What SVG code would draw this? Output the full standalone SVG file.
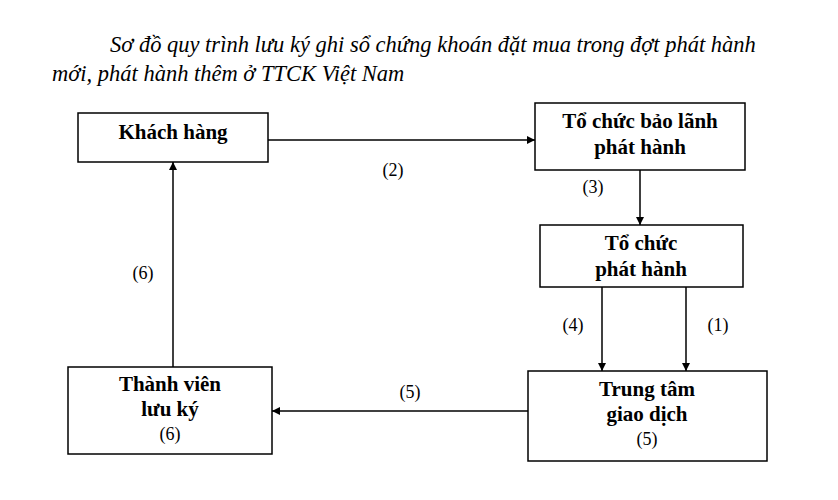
<svg xmlns="http://www.w3.org/2000/svg" width="838" height="500" viewBox="0 0 838 500">
<style>
.b{fill:#fff;stroke:#000;stroke-width:1.5}
.t{font-family:"Liberation Serif",serif;font-size:21px;font-weight:bold;text-anchor:middle}
.n{font-family:"Liberation Serif",serif;font-size:18px;text-anchor:middle}
.c{stroke:#000;stroke-width:1.5;fill:none;marker-end:url(#a)}
.h{font-family:"Liberation Serif",serif;font-size:22.5px;font-style:italic}
</style>
<defs><marker id="a" viewBox="0 0 10 10" refX="10" refY="5" markerWidth="8" markerHeight="8" markerUnits="userSpaceOnUse" orient="auto"><path d="M0,0L10,5L0,10z"/></marker></defs>
<rect width="838" height="500" fill="#fff"/>
<text class="h" x="110" y="52">Sơ đồ quy trình lưu ký ghi sổ chứng khoán đặt mua trong đợt phát hành</text>
<text class="h" x="52" y="81">mới, phát hành thêm ở TTCK Việt Nam</text>
<g id="connectors">
<path class="c" d="M268,140H535"/>
<path class="c" d="M640,170V225"/>
<path class="c" d="M602,287V371"/>
<path class="c" d="M686,287V371"/>
<path class="c" d="M528,411H272"/>
<path class="c" d="M173,367V162"/>
<text class="n" x="393" y="176">(2)</text>
<text class="n" x="593" y="193">(3)</text>
<text class="n" x="573" y="331">(4)</text>
<text class="n" x="718" y="331">(1)</text>
<text class="n" x="410" y="398">(5)</text>
<text class="n" x="143" y="279">(6)</text>
</g>
<g id="khach"><rect class="b" x="78" y="113" width="190" height="49"/><text class="t" x="173" y="139">Khách hàng</text></g>
<g id="baolanh"><rect class="b" x="535" y="103" width="210" height="67"/><text class="t" x="640" y="128">Tổ chức bảo lãnh</text><text class="t" x="640" y="154">phát hành</text></g>
<g id="tochuc"><rect class="b" x="540" y="225" width="203" height="62"/><text class="t" x="641" y="250">Tổ chức</text><text class="t" x="641" y="276">phát hành</text></g>
<g id="trungtam"><rect class="b" x="528" y="371" width="239" height="90"/><text class="t" x="647" y="396">Trung tâm</text><text class="t" x="647" y="421">giao dịch</text><text class="n" x="647" y="445">(5)</text></g>
<g id="thanhvien"><rect class="b" x="68" y="367" width="204" height="87"/><text class="t" x="170" y="391">Thành viên</text><text class="t" x="170" y="416">lưu ký</text><text class="n" x="170" y="440">(6)</text></g>
</svg>
